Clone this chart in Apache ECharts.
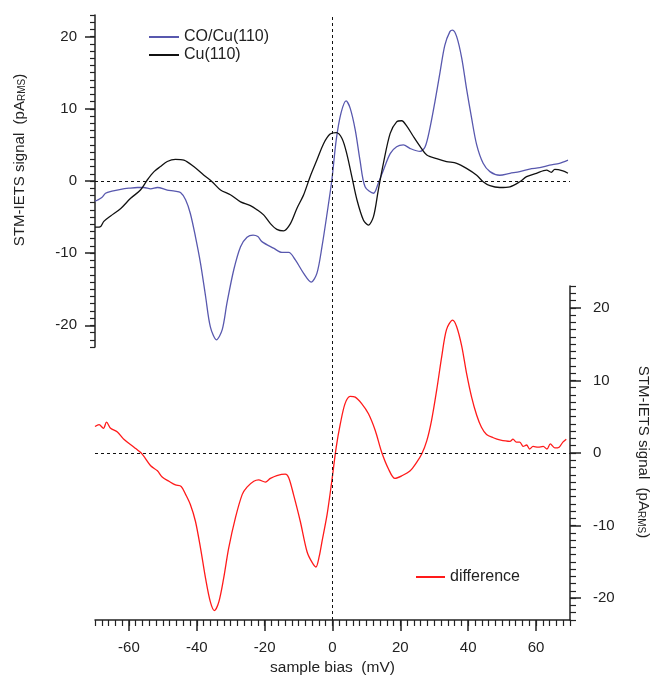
<!DOCTYPE html>
<html>
<head>
<meta charset="utf-8">
<script src="https://cdn.jsdelivr.net/npm/echarts@6/dist/echarts.min.js"></script>
<style>
  html, body { margin: 0; padding: 0; background: #fff; }
  #main { width: 651px; height: 677px; }
</style>
</head>
<body>
<div id="main"></div>
<script>
// CO/Cu(110) (top panel, blue)
const coBias = [-70, -69.5, -68, -66.9, -65, -62.4, -60, -57.5, -55.6, -53.6, -51.6, -48.7, -46.5, -44.8, -43.3,
  -41.9, -40.4, -38.9, -37.4, -36, -34.2, -32.5, -31.1, -29.1, -27.1, -25.2, -23.4, -22, -20.8, -17.4, -14.9,
  -12.9, -11, -8.5, -6.3, -4.6, -3.1, -1.6, -0.2, 1.1, 2.5, 4.0, 5.2, 6.7, 8.1, 9.6, 12.1, 13.5, 15, 17, 18.9,
  20.9, 22.9, 25.8, 27.3, 28.7, 30.2, 31.7, 33.1, 34.6, 35.4, 36.6, 38.1, 39.5, 41, 42.5, 44.4, 46.4, 49.3,
  52.3, 55.2, 58.1, 61.1, 64, 66.9, 69.4]
const coSignal = [-2.8, -2.7, -2.3, -1.7, -1.4, -1.15, -1.0, -0.9, -0.9, -1.1, -0.9, -1.25, -1.4, -1.6, -2.6,
  -4.5, -7.7, -11.4, -16, -20.2, -22.0, -20.6, -16.9, -12.3, -9.1, -7.8, -7.5, -7.7, -8.4, -9.3, -9.9,
  -9.9, -10.9, -12.8, -14.0, -12.8, -9.1, -4.5, 0.1, 5.7, 9.4, 11.1, 10.1, 7.1, 2.9, -0.8, -1.7, -0.3, 1.5, 3.8, 4.75,
  5.0, 4.5, 4.1, 4.75, 7.3, 11.0, 15.1, 18.8, 20.7, 20.9, 20, 17, 12.8, 8.7, 5.0, 2.45, 1.3, 0.8,
  1.07, 1.3, 1.66, 1.85, 2.2, 2.45, 2.9]

// Cu(110) (top panel, black)
const cuBias = [-70, -69.5, -68.3, -67.4, -65.4, -62.4, -59.5, -56.6, -54.6, -52.6, -50.7, -48.7, -46.3, -43.8,
  -40.9, -37.9, -35.5, -33, -30.1, -27.1, -24.2, -22.2, -20.3, -18.3, -16.4, -14.4, -12.4, -10.5, -8.5, -6.6,
  -4.6, -2.6, -0.7, 1.1, 2.8, 4.2, 5.7, 7.2, 9.1, 10.6, 12.1, 13.5, 15, 17, 18.9, 20.4, 21.9, 23.8, 25.8, 27.8,
  30.7, 33.6, 36.6, 39.5, 42.5, 44.4, 46.4, 49.3, 52.3, 55.2, 57.2, 60.1, 63.1, 64.5, 65.5, 67.9, 69.4]
const cuSignal = [-6.4, -6.4, -6.3, -5.6, -4.85, -3.8, -2.4, -1.25, 0.14, 1.3, 2.0, 2.7, 3.0, 2.9,
  2.0, 0.8, -0.1, -1.25, -1.9, -2.9, -3.4, -4.0, -4.7, -5.9, -6.7, -6.9, -5.9, -3.8, -1.9, 0.6,
  2.9, 5.2, 6.5, 6.7, 5.9, 3.8, 0.6, -2.6, -5.4, -6.1, -4.9, -1.25, 2.45, 6.6, 8.2, 8.35, 7.6, 6.2, 4.8, 3.6,
  3.1, 2.7, 2.45, 1.75, 0.8, -0.1, -0.65, -0.9, -0.8, -0.1, 0.6, 1.07, 1.5, 1.2, 1.6, 1.4, 1.07]

// difference (bottom panel, red)
const diffBias = [-70, -68.8, -67.5, -66.6, -65.4, -63.4, -61.5, -58.5, -56.1, -53.6, -51.6, -50.2, -48.2, -46.3,
  -44.6, -43.3, -41.9, -40.4, -38.9, -37.4, -36, -34.8, -33.5, -32.1, -30.6, -28.6, -26.6, -25.2, -23.2, -21.8,
  -19.8, -18.3, -16.4, -13.9, -12.9, -11.5, -9.5, -7.5, -6.1, -4.9, -3.9, -3.1, -1.6, -0.2, 1.1, 2.3, 3.7, 5.2,
  6.7, 8.6, 10.6, 12.6, 14.5, 16.5, 18.4, 20.4, 22.9, 24.8, 26.3, 27.8, 29.2, 30.7, 32.2, 33.6, 35.4, 36.6,
  38.1, 39.5, 41, 42.5, 43.9, 45.4, 47.4, 49.3, 52.3, 53.2, 54.2, 55.2, 56.2, 57.2, 58.1, 59.1, 60.6, 62.1,
  63.2, 64.2, 65.5, 66.8, 67.9, 68.9]
const diffSignal = [3.65, 3.9, 3.4, 4.25, 3.4, 2.9, 1.9, 0.8, -0.15, -1.75, -2.45, -3.3, -3.9, -4.4,
  -4.6, -5.7, -7.1, -9.4, -13.1, -17.3, -20.5, -21.7, -20.5, -17.3, -13.1, -8.9, -5.7, -4.7, -3.9, -3.7,
  -4.0, -3.5, -3.1, -2.9, -3.4, -5.7, -9.4, -13.6, -15.0, -15.7, -14.2, -12.2, -8.5, -3.85, 0.8, 4.0, 6.8, 7.8,
  7.7, 6.8, 5.4, 3.1, 0.1, -2.2, -3.5, -3.15, -2.45, -1.3, -0.15, 1.7, 4.5, 8.65, 13.3, 17.0, 18.3, 17.4,
  14.7, 11.0, 7.7, 5.2, 3.55, 2.55, 2.1, 1.8, 1.6, 1.9, 1.5, 1.5, 0.9, 1.1, 0.55, 0.9, 0.8, 0.9,
  0.55, 1.25, 0.7, 0.8, 1.5, 1.9]

// tick values
const xMajorTicks = [-60, -40, -20, 0, 20, 40, 60]
const yMajorTicks = [-20, -10, 0, 10, 20]

const xMinorTicks = []
for (let v = -70; v <= 70; v += 2) xMinorTicks.push(v)
const yMinorTicks = []
for (let v = -23; v <= 23; v += 1) yMinorTicks.push(v)

const pairs = (xs, ys) => xs.map((x, i) => [x, ys[i]])

const FONT = 'Liberation Sans, Arial, sans-serif'
const INK = '#222'

let chartDom = document.getElementById('main')
let myChart = echarts.init(chartDom, null, { renderer: 'canvas' })

const dashed = {
  silent: true,
  symbol: 'none',
  label: { show: false },
  lineStyle: { color: '#111', type: [3, 3], width: 1 },
}

let option = {
  animation: false,
  backgroundColor: '#fff',
  textStyle: { fontFamily: FONT, color: INK },
  grid: [
    { left: 95, right: 81, top: 15, height: 332 },   // top panel
    { left: 95, right: 81, top: 286, height: 334 },  // bottom panel
    { left: 95, right: 81, top: 15, height: 605 },   // full height (x = 0 line)
  ],
  legend: [
    {
      data: ['CO/Cu(110)', 'Cu(110)'],
      orient: 'vertical',
      left: 143, top: 24,
      itemWidth: 30, itemHeight: 14, itemGap: 2,
      itemStyle: { opacity: 0 },
      textStyle: { fontSize: 16, color: INK, fontFamily: FONT },
    },
    {
      data: ['difference'],
      left: 410, top: 564,
      itemWidth: 29, itemHeight: 14,
      itemStyle: { opacity: 0 },
      textStyle: { fontSize: 16, color: INK, fontFamily: FONT },
    },
  ],
  xAxis: [
    { gridIndex: 0, type: 'value', min: -70, max: 70, show: false },
    {
      gridIndex: 1, type: 'value', min: -70, max: 70, position: 'bottom',
      name: 'sample bias  (mV)', nameLocation: 'middle', nameGap: 40,
      nameTextStyle: { fontSize: 15.5, color: INK, fontFamily: FONT },
      axisLine: { onZero: false, lineStyle: { color: INK, width: 1.5 } },
      axisTick: { length: 11, customValues: xMajorTicks, lineStyle: { color: INK, width: 1.5 } },
      axisLabel: { customValues: xMajorTicks, margin: 20, fontSize: 15, color: INK, fontFamily: FONT },
      splitLine: { show: false },
    },
    {
      gridIndex: 1, type: 'value', min: -70, max: 70, position: 'bottom',
      axisLine: { show: false, onZero: false },
      axisTick: { length: 6, customValues: xMinorTicks, lineStyle: { color: INK, width: 1.2 } },
      axisLabel: { show: false },
      splitLine: { show: false },
    },
    { gridIndex: 2, type: 'value', min: -70, max: 70, show: false },
  ],
  yAxis: [
    {
      gridIndex: 0, type: 'value', min: -23, max: 23, position: 'left',
      axisLine: { show: true, onZero: false, lineStyle: { color: INK, width: 1.5 } },
      axisTick: { show: true, length: 10, customValues: yMajorTicks, lineStyle: { color: INK, width: 1.5 } },
      axisLabel: { customValues: yMajorTicks, margin: 18, fontSize: 15, color: INK, fontFamily: FONT },
      splitLine: { show: false },
    },
    {
      gridIndex: 0, type: 'value', min: -23, max: 23, position: 'left',
      axisLine: { show: false, onZero: false },
      axisTick: { show: true, length: 5, customValues: yMinorTicks, lineStyle: { color: INK, width: 1.2 } },
      axisLabel: { show: false },
      splitLine: { show: false },
    },
    {
      gridIndex: 1, type: 'value', min: -23, max: 23, position: 'right',
      axisLine: { show: true, onZero: false, lineStyle: { color: INK, width: 1.5 } },
      axisTick: { show: true, length: 11, customValues: yMajorTicks, lineStyle: { color: INK, width: 1.5 } },
      axisLabel: { customValues: yMajorTicks, margin: 23, fontSize: 15, color: INK, fontFamily: FONT },
      splitLine: { show: false },
    },
    {
      gridIndex: 1, type: 'value', min: -23, max: 23, position: 'right',
      axisLine: { show: false, onZero: false },
      axisTick: { show: true, length: 6, customValues: yMinorTicks, lineStyle: { color: INK, width: 1.2 } },
      axisLabel: { show: false },
      splitLine: { show: false },
    },
    { gridIndex: 2, type: 'value', min: 0, max: 1, show: false },
  ],
  graphic: [
    {
      type: 'text', x: 20, y: 160, rotation: Math.PI / 2,
      style: {
        text: 'STM-IETS signal  (pA{sub|RMS})',
        font: '15px ' + FONT, fill: INK, align: 'center', verticalAlign: 'middle',
        rich: { sub: { fontSize: 10, fontFamily: FONT, fill: INK, verticalAlign: 'bottom', lineHeight: 10 } },
      },
    },
    {
      type: 'text', x: 643, y: 452, rotation: -Math.PI / 2,
      style: {
        text: 'STM-IETS signal  (pA{sub|RMS})',
        font: '15px ' + FONT, fill: INK, align: 'center', verticalAlign: 'middle',
        rich: { sub: { fontSize: 10, fontFamily: FONT, fill: INK, verticalAlign: 'bottom', lineHeight: 10 } },
      },
    },
  ],
  series: [
    {
      name: 'CO/Cu(110)', type: 'line', xAxisIndex: 0, yAxisIndex: 0,
      data: pairs(coBias, coSignal), symbol: 'none', smooth: 0.3,
      color: '#5858ae', lineStyle: { width: 1.3, color: '#5858ae' },
      markLine: Object.assign({ data: [{ yAxis: 0 }] }, dashed),
    },
    {
      name: 'Cu(110)', type: 'line', xAxisIndex: 0, yAxisIndex: 0,
      data: pairs(cuBias, cuSignal), symbol: 'none', smooth: 0.3,
      color: '#111', lineStyle: { width: 1.3, color: '#111' },
    },
    {
      name: 'difference', type: 'line', xAxisIndex: 1, yAxisIndex: 2,
      data: pairs(diffBias, diffSignal), symbol: 'none', smooth: 0.3,
      color: '#ff1a1a', lineStyle: { width: 1.3, color: '#ff1a1a' },
      markLine: Object.assign({ data: [{ yAxis: 0 }] }, dashed),
    },
    {
      name: 'zero bias', type: 'line', xAxisIndex: 3, yAxisIndex: 4,
      data: [], symbol: 'none',
      markLine: Object.assign({ data: [{ xAxis: 0 }] }, dashed),
    },
  ],
}

option && myChart.setOption(option)
</script>
</body>
</html>
